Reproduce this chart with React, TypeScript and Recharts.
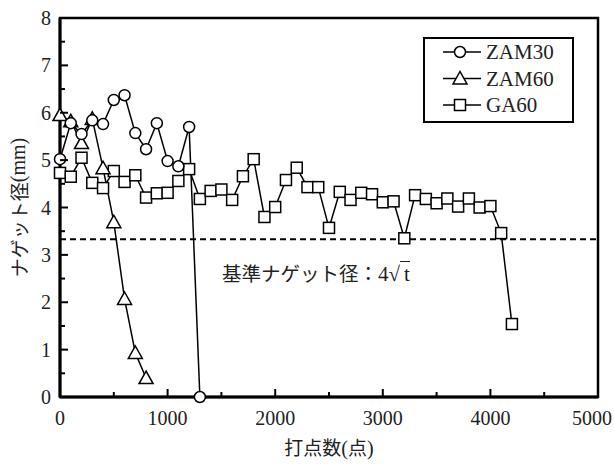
import React from 'react';
import {
  LineChart,
  Line,
  XAxis,
  YAxis,
  ReferenceLine,
  ReferenceArea,
} from 'recharts';

// Latin text and CJK text get separate fonts so digits stay serif
const SERIF = 'Liberation Serif';
const CJK = 'Noto Sans CJK JP';

// weld count (points) and nugget diameter (mm) for each sheet
const zam30Counts = [0, 100, 200, 300, 400, 500, 600, 700, 800, 900, 1000, 1100, 1200, 1300];
const zam30Values = [5.02, 5.78, 5.55, 5.84, 5.76, 6.27, 6.37, 5.57, 5.23, 5.78, 4.98, 4.87, 5.7, 0];

const zam60Counts = [0, 100, 200, 300, 400, 500, 600, 700, 800];
const zam60Values = [5.95, 5.82, 5.36, 5.87, 4.83, 3.69, 2.07, 0.93, 0.4];

const ga60Counts = [
  0, 100, 200, 300, 400, 500, 600, 700, 800, 900, 1000, 1100, 1200, 1300, 1400, 1500,
  1600, 1700, 1800, 1900, 2000, 2100, 2200, 2300, 2400, 2500, 2600, 2700, 2800, 2900,
  3000, 3100, 3200, 3300, 3400, 3500, 3600, 3700, 3800, 3900, 4000, 4100, 4200,
];
const ga60Values = [
  4.73, 4.65, 5.05, 4.52, 4.41, 4.77, 4.54, 4.68, 4.21, 4.3, 4.31, 4.56, 4.81, 4.18, 4.35, 4.38,
  4.16, 4.66, 5.02, 3.8, 4.01, 4.58, 4.84, 4.43, 4.43, 3.57, 4.33, 4.16, 4.31, 4.28,
  4.11, 4.13, 3.35, 4.26, 4.18, 4.09, 4.19, 4.02, 4.19, 4.0, 4.03, 3.46, 1.54,
];

// required nugget diameter 4√t
const criterion = 3.33;

const xTicks = [0, 500, 1000, 1500, 2000, 2500, 3000, 3500, 4000, 4500, 5000];
const yTicks = [0, 0.5, 1, 1.5, 2, 2.5, 3, 3.5, 4, 4.5, 5, 5.5, 6, 6.5, 7, 7.5, 8];

const toRows = (xs: number[], ys: number[]) => xs.map((x, i) => ({ x, y: ys[i] }));
const zam30 = toRows(zam30Counts, zam30Values);
const zam60 = toRows(zam60Counts, zam60Values);
const ga60 = toRows(ga60Counts, ga60Values);

type Shape = 'circle' | 'triangle' | 'square';

function Marker({ cx, cy, shape }: { cx: number; cy: number; shape: Shape }) {
  const common = { fill: '#fff', stroke: '#000', strokeWidth: 1.5 };
  if (shape === 'circle') return <circle cx={cx} cy={cy} r={5.5} {...common} />;
  if (shape === 'square') return <rect x={cx - 5.5} y={cy - 5.5} width={11} height={11} {...common} />;
  return <polygon points={`${cx},${cy - 7} ${cx - 7},${cy + 5.5} ${cx + 7},${cy + 5.5}`} {...common} />;
}

const dotFor = (shape: Shape) => (props: any) => (
  <Marker key={`${shape}-${props.index}`} cx={props.cx} cy={props.cy} shape={shape} />
);

function XTick(props: any) {
  const { x, y, payload } = props;
  const major = payload.value % 1000 === 0;
  const lx = payload.value === 5000 ? x - 6 : x;
  return (
    <g>
      <line x1={x} x2={x} y1={y} y2={y - (major ? 8 : 5)} stroke="#000" strokeWidth={2} />
      {major && (
        <text x={lx} y={y + 28} textAnchor="middle" fontFamily={SERIF} fontSize={20} fill="#222">
          {payload.value}
        </text>
      )}
    </g>
  );
}

function YTick(props: any) {
  const { x, y, payload } = props;
  const major = Number.isInteger(payload.value);
  return (
    <g>
      <line x1={x} x2={x + (major ? 8 : 5)} y1={y} y2={y} stroke="#000" strokeWidth={2} />
      {major && (
        <text x={x - 9} y={y + 7} textAnchor="end" fontFamily={SERIF} fontSize={20} fill="#222">
          {payload.value}
        </text>
      )}
    </g>
  );
}

const legendItems: { name: string; shape: Shape }[] = [
  { name: 'ZAM30', shape: 'circle' },
  { name: 'ZAM60', shape: 'triangle' },
  { name: 'GA60', shape: 'square' },
];

function LegendBox() {
  return (
    <svg width={151} height={86} style={{ position: 'absolute', left: 423, top: 37 }}>
      <rect x={1} y={1} width={149} height={84} fill="#fff" stroke="#000" strokeWidth={2} />
      {legendItems.map((item, i) => {
        const cy = 15 + i * 26.5;
        return (
          <g key={item.name}>
            <line x1={20} x2={58} y1={cy} y2={cy} stroke="#000" strokeWidth={1.5} />
            <Marker cx={37} cy={cy} shape={item.shape} />
            <text x={63} y={cy + 7} fontFamily={SERIF} fontSize={21} fill="#222">
              {item.name}
            </text>
          </g>
        );
      })}
    </svg>
  );
}

export default function App() {
  return (
    <div style={{ position: 'absolute', left: 0, top: 0, width: 614, height: 466, background: '#fff' }}>
      <LineChart width={614} height={466} margin={{ top: 18, right: 16, bottom: 0, left: 0 }}>
        <XAxis
          dataKey="x"
          type="number"
          domain={[0, 5000]}
          ticks={xTicks}
          interval={0}
          height={69}
          tickSize={0}
          tickMargin={0}
          tickLine={false}
          tick={<XTick />}
          axisLine={{ stroke: '#000', strokeWidth: 3 }}
          label={(p: any) => (
            <text x={p.viewBox.x + p.viewBox.width / 2} y={455} textAnchor="middle" fontSize={19} fill="#222">
              <tspan fontFamily={CJK}>打点数</tspan>
              <tspan fontFamily={SERIF} fontSize={20}>(</tspan>
              <tspan fontFamily={CJK}>点</tspan>
              <tspan fontFamily={SERIF} fontSize={20}>)</tspan>
            </text>
          )}
        />
        <YAxis
          dataKey="y"
          type="number"
          domain={[0, 8]}
          ticks={yTicks}
          interval={0}
          width={60}
          tickSize={0}
          tickMargin={0}
          tickLine={false}
          tick={<YTick />}
          axisLine={{ stroke: '#000', strokeWidth: 3 }}
          label={(p: any) => {
            const cx = 18;
            const cy = p.viewBox.y + p.viewBox.height / 2;
            return (
              <text
                x={cx}
                y={cy}
                textAnchor="middle"
                dominantBaseline="central"
                transform={`rotate(-90, ${cx}, ${cy})`}
                fontSize={19}
                fill="#222"
              >
                <tspan fontFamily={CJK}>ナゲット径</tspan>
                <tspan fontFamily={SERIF} fontSize={20}>(mm)</tspan>
              </text>
            );
          }}
        />
        <ReferenceArea x1={0} x2={5000} y1={0} y2={8} fill="none" stroke="#000" strokeWidth={2.5} />
        <ReferenceLine y={criterion} stroke="#000" strokeWidth={2} strokeDasharray="6 4" />
        <Line
          data={ga60}
          dataKey="y"
          name="GA60"
          stroke="#000"
          strokeWidth={1.5}
          dot={dotFor('square')}
          isAnimationActive={false}
        />
        <Line
          data={zam60}
          dataKey="y"
          name="ZAM60"
          stroke="#000"
          strokeWidth={1.5}
          dot={dotFor('triangle')}
          isAnimationActive={false}
        />
        <Line
          data={zam30}
          dataKey="y"
          name="ZAM30"
          stroke="#000"
          strokeWidth={1.5}
          dot={dotFor('circle')}
          isAnimationActive={false}
        />
      </LineChart>
      <LegendBox />
      <div
        style={{
          position: 'absolute',
          left: 222,
          top: 261,
          color: '#222',
          whiteSpace: 'nowrap',
          lineHeight: '24px',
        }}
      >
        <span style={{ fontFamily: CJK, fontSize: 19.5 }}>基準ナゲット径：</span>
        <span style={{ fontFamily: SERIF, fontSize: 21 }}>
          4√<span style={{ borderTop: '1px solid #222', paddingLeft: 4 }}>t</span>
        </span>
      </div>
    </div>
  );
}
